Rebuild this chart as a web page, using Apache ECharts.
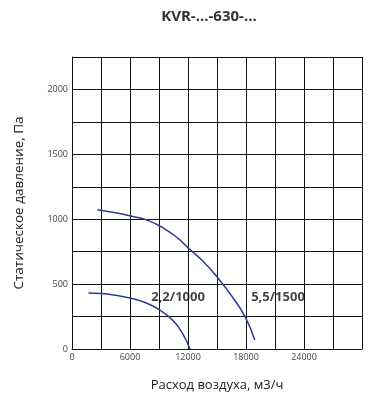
<!DOCTYPE html>
<html><head><meta charset="utf-8">
<script src="https://cdn.jsdelivr.net/npm/echarts@6/dist/echarts.min.js"></script>
<style>html,body{margin:0;padding:0;background:#fff}#c{width:377px;height:400px}</style>
</head><body><div id="c"></div>
<script>
const title = 'KVR-...-630-...';
const xName = 'Расход воздуха, м3/ч';
const yName = 'Статическое давление, Па';
const curve1 = [[1700,432],[3000,428],[4500,415],[6000,393],[7500,360],[9100,300],[10500,215],[11500,110],[12200,0]];
const curve2 = [[2620,1073],[4500,1050],[6000,1026],[7700,995],[9500,930],[11000,850],[12000,780],[13500,680],[15000,556],[16500,410],[17900,249],[18900,70]];
const labelsData = [[10970,401,'2,2/1000'],[21310,401,'5,5/1500']];
const xLabelValues = [0,6000,12000,18000,24000];
const yLabelValues = [0,500,1000,1500,2000];

const chart = echarts.init(document.getElementById('c'));
const ff = '"Open Sans", sans-serif';
const lineColor = '#2d3a96';
chart.setOption({
  animation:false,
  title:{text:title,left:204,top:4,textAlign:'center',textStyle:{fontFamily:ff,fontWeight:'bold',fontSize:15,color:'#333'}},
  grid:{left:72,right:15,top:57,bottom:51},
  xAxis:{type:'value',min:0,max:30000,interval:3000,
    name:xName,nameLocation:'middle',nameGap:30,nameTextStyle:{fontFamily:ff,fontSize:13,color:'#222'},
    axisLine:{show:true,lineStyle:{color:'#111',width:1}},axisTick:{show:false},
    axisLabel:{fontFamily:ff,fontSize:9,color:'#444',margin:4,formatter:v=>xLabelValues.includes(v)?String(v):''},
    splitLine:{show:true,lineStyle:{color:'#111',width:1}}},
  yAxis:{type:'value',min:0,max:2250,interval:250,
    name:yName,nameLocation:'middle',nameGap:46,nameTextStyle:{fontFamily:ff,fontSize:13.5,color:'#222'},
    axisLine:{show:true,lineStyle:{color:'#111',width:1}},axisTick:{show:false},
    axisLabel:{fontFamily:ff,fontSize:9,color:'#444',margin:4,formatter:v=>yLabelValues.includes(v)?String(v):''},
    splitLine:{show:true,lineStyle:{color:'#111',width:1}}},
  series:[
    {type:'line',data:curve1,smooth:true,symbol:'none',lineStyle:{color:lineColor,width:1.5}},
    {type:'line',data:curve2,smooth:true,symbol:'none',lineStyle:{color:lineColor,width:1.5}},
    {type:'scatter',data:labelsData,symbolSize:0,silent:true,
     label:{show:true,position:'inside',formatter:p=>p.data[2],fontFamily:ff,fontWeight:'bold',fontSize:13,color:'#111'}}
  ]
});
</script></body></html>
